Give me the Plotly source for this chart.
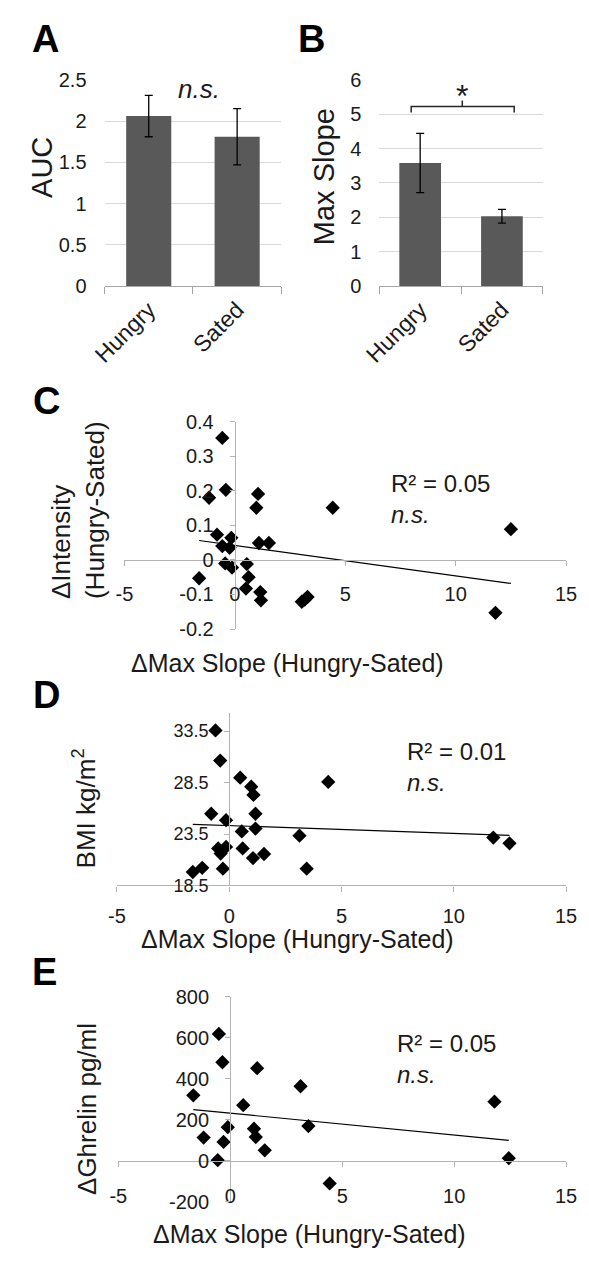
import numpy as np
import plotly.graph_objects as go

W, H = 589, 1262

# ---------------- data ----------------
categories = ["Hungry", "Sated"]
auc_mean = [2.06, 1.81]
auc_err = [0.25, 0.34]
slope_mean = [3.58, 2.03]
slope_err = [0.86, 0.20]

# Panel C: dMax slope vs dIntensity
c_x = [-0.57, -0.41, -1.17, 1.05, 0.97, 4.43, 12.5, -0.81, -0.16, -0.57, -0.24, 1.09, 1.54,
       -0.44, -0.13, 0.54, -1.62, 0.62, 0.50, 1.15, 1.18, 3.03, 3.29, 3.16, 11.8]
c_y = [0.353, 0.203, 0.180, 0.191, 0.151, 0.151, 0.089, 0.073, 0.064, 0.040, 0.035, 0.049, 0.049,
       -0.010, -0.022, -0.012, -0.053, -0.050, -0.083, -0.093, -0.117, -0.121, -0.107, -0.115, -0.153]

# Panel D: dMax slope vs BMI
d_x = [-0.61, -0.40, 0.49, 4.41, 0.98, 1.08, -0.80, 1.17, -0.14, 0.56, 1.17, 3.13, -0.49, -0.14,
       -0.38, 0.60, 1.06, 1.55, -1.62, -1.20, -0.28, 3.45, 11.76, 12.48]
d_y = [33.56, 30.63, 28.97, 28.56, 28.1, 27.3, 25.47, 25.47, 24.84, 23.75, 24.03, 23.34, 22.1, 22.25,
       21.6, 22.1, 21.16, 21.56, 19.81, 20.22, 20.13, 20.13, 23.15, 22.6]

# Panel E: dMax slope vs dGhrelin
e_x = [-0.51, -0.35, 1.2, 3.14, -1.65, 11.8, 0.58, -0.11, 3.49, 1.06, 1.14, -1.19, -0.30, 1.54,
       -0.56, 12.44, 4.44]
e_y = [618, 480, 451, 363, 319, 288, 271, 164, 169, 156, 116, 113, 92, 51, 3, 13, -110]

scatter_xticks = [-5, 0, 5, 10, 15]
scatter_xticktext = ["-5", "0", "5", "10", "15"]
c_yticks = [-0.2, -0.1, 0, 0.1, 0.2, 0.3, 0.4]
c_yticktext = ["-0.2", "-0.1", "0", "0.1", "0.2", "0.3", "0.4"]
d_yticks = [18.5, 23.5, 28.5, 33.5]
d_yticktext = ["18.5", "23.5", "28.5", "33.5"]
e_yticks = [-200, 0, 200, 400, 600, 800]
e_yticktext = ["-200", "0", "200", "400", "600", "800"]

r2_texts = ["R² = 0.05", "R² = 0.01", "R² = 0.05"]

# ---------------- helpers ----------------
FONT = "Arial, Liberation Sans, sans-serif"
TXT = "#1a1a1a"


def px(x):
    return x / W


def py(y):
    return 1 - y / H


def xdom(a, b):
    return [px(a), px(b)]


def ydom(top, bottom):
    return [py(bottom), py(top)]


fig = go.Figure()

BAR_COLOR = "#595959"
# A
fig.add_trace(go.Bar(x=categories, y=auc_mean, marker=dict(color=BAR_COLOR, line=dict(width=0)),
                     error_y=dict(type="data", array=auc_err, color="black", thickness=1.3, width=4),
                     xaxis="x", yaxis="y", showlegend=False))
# B
fig.add_trace(go.Bar(x=categories, y=slope_mean, marker=dict(color=BAR_COLOR, line=dict(width=0)),
                     error_y=dict(type="data", array=slope_err, color="black", thickness=1.3, width=4),
                     xaxis="x2", yaxis="y2", showlegend=False))


def add_scatter(xs, ys, xa, ya):
    fig.add_trace(go.Scatter(x=xs, y=ys, mode="markers",
                             marker=dict(symbol="diamond", size=11, color="black"),
                             xaxis=xa, yaxis=ya, showlegend=False))
    m, b = np.polyfit(xs, ys, 1)
    lx = np.array([min(xs), max(xs)])
    fig.add_trace(go.Scatter(x=lx, y=m * lx + b, mode="lines",
                             line=dict(color="black", width=1.2),
                             xaxis=xa, yaxis=ya, showlegend=False, hoverinfo="skip"))


add_scatter(c_x, c_y, "x3", "y3")
add_scatter(d_x, d_y, "x4", "y4")
add_scatter(e_x, e_y, "x5", "y5")

AX_GREY = "#b3b3b3"

bar_x_common = dict(type="category", showline=True, linecolor="#a6a6a6", linewidth=1.3,
                    ticks="outside", tickson="boundaries", ticklen=7, tickcolor="#a6a6a6",
                    tickangle=-45, tickfont=dict(size=23, color=TXT, family=FONT),
                    showgrid=False, zeroline=False)
bar_y_common = dict(showline=False, ticks="", showgrid=True, gridcolor="#d9d9d9", gridwidth=1.2,
                    zeroline=False, tickfont=dict(size=20, color=TXT, family=FONT),
                    ticklabelstandoff=17)

# Scatter domains (pixels)
C_X = (112, 576.5)
C_Y = (418, 629)
C_YR = [-0.2, 0.4]
D_X = (104, 576.5)
D_Y = (714, 890)
D_YR = [18.5, 35.3]
E_X = (105.5, 576.5)
E_Y = (1003, 1212)
E_YR = [-200, 800]
XR = [-5, 15]


def zero_px_x(dom):
    return dom[0] + (0 - XR[0]) / (XR[1] - XR[0]) * (dom[1] - dom[0])


def zero_px_y(dom, rng):
    return dom[1] - (0 - rng[0]) / (rng[1] - rng[0]) * (dom[1] - dom[0])


sc_x_common = dict(range=XR, tickvals=scatter_xticks, ticktext=scatter_xticktext,
                   showline=True, linecolor=AX_GREY, linewidth=1.3, ticks="outside",
                   ticklen=5, tickcolor=AX_GREY, showgrid=False, zeroline=False,
                   tickfont=dict(size=20, color=TXT, family=FONT))
sc_y_common = dict(showline=True, linecolor=AX_GREY, linewidth=1.3, ticks="outside",
                   ticklen=5, tickcolor=AX_GREY, showgrid=False, zeroline=False,
                   tickfont=dict(size=20, color=TXT, family=FONT), ticklabelstandoff=12)

fig.update_layout(
    width=W, height=H, margin=dict(l=0, r=0, t=0, b=0),
    paper_bgcolor="white", plot_bgcolor="white", bargap=0.49,
    font=dict(family=FONT, color=TXT),
    xaxis=dict(domain=xdom(91, 277), anchor="y", **bar_x_common),
    yaxis=dict(domain=ydom(70, 280), anchor="x", range=[0, 2.5], dtick=0.5, **bar_y_common),
    xaxis2=dict(domain=xdom(380, 552), anchor="y2", **bar_x_common),
    yaxis2=dict(domain=ydom(70, 280), anchor="x2", range=[0, 6], dtick=1, **bar_y_common),
    xaxis3=dict(domain=xdom(*C_X), anchor="free", position=py(zero_px_y(C_Y, C_YR)),
                ticklabelstandoff=11, **sc_x_common),
    yaxis3=dict(domain=ydom(*C_Y), anchor="free", position=px(zero_px_x(C_X)), range=C_YR,
                tickvals=c_yticks, ticktext=c_yticktext, **sc_y_common),
    xaxis4=dict(domain=xdom(*D_X), anchor="y4", ticklabelstandoff=7, **sc_x_common),
    yaxis4=dict(domain=ydom(*D_Y), anchor="free", position=px(zero_px_x(D_X)), range=D_YR,
                tickvals=d_yticks, ticktext=d_yticktext,
                **{**sc_y_common, "tickfont": dict(size=18, color=TXT, family=FONT)}),
    xaxis5=dict(domain=xdom(*E_X), anchor="free", position=py(zero_px_y(E_Y, E_YR)),
                ticklabelstandoff=12, **sc_x_common),
    yaxis5=dict(domain=ydom(*E_Y), anchor="free", position=px(zero_px_x(E_X)), range=E_YR,
                tickvals=e_yticks, ticktext=e_yticktext, **sc_y_common),
)

ann = []


def label(text, x, y, size, xanchor="center", angle=0, bold=False, italic=False, yanchor="middle"):
    t = text
    if bold:
        t = f"<b>{t}</b>"
    if italic:
        t = f"<i>{t}</i>"
    ann.append(dict(text=t, x=px(x), y=py(y), xref="paper", yref="paper", showarrow=False,
                    xanchor=xanchor, yanchor=yanchor, textangle=angle, align="left",
                    font=dict(size=size, color="black" if bold else TXT, family=FONT)))


# panel letters
for letter, lx, ly in [("A", 29, 28), ("B", 309, 28), ("C", 30, 397), ("D", 30, 696), ("E", 28, 978)]:
    label(letter, lx, ly, 38, bold=True)

# axis titles
label("AUC", 26, 159, 29, angle=-90)
label("Max Slope", 322, 169, 29, angle=-90)
label("ΔIntensity<br>(Hungry-Sated)", 63, 508, 26, angle=-90)
label("ΔMax Slope (Hungry-Sated)", 283, 664, 25)
label("BMI kg/m<sup>2</sup>", 70, 812, 26, angle=-90)
label("ΔMax Slope (Hungry-Sated)", 294, 944, 25)
label("ΔGhrelin pg/ml", 72, 1117, 26, angle=-90)
label("ΔMax Slope (Hungry-Sated)", 307, 1245, 25)

# significance
label("n.s.", 190, 79, 26, italic=True)
label("*", 467, 86, 32)

# R² and n.s. in scatters (one wrapped text each)
for txt, lx, top in [(r2_texts[0], 390, 465), (r2_texts[1], 407, 738), (r2_texts[2], 396, 1035)]:
    label(f"{txt}<br><i>n.s.</i>", lx, top, 24, xanchor="left", yanchor="top")

fig.update_layout(annotations=ann)

# bracket in panel B (data coordinates of axis x2/y2)
br = dict(color="#262626", width=1.5)
fig.add_shape(type="path", xref="x2", yref="y2",
              path="M -0.11,5.05 L -0.11,5.22 L 1.15,5.22 L 1.15,5.05", line=br)
fig.add_shape(type="line", xref="x2", yref="y2", x0=0.515, x1=0.515, y0=5.22, y1=5.40, line=br)

fig.write_html("out.html", config={"displayModeBar": False},
               post_script="document.body.style.margin='0';document.body.style.overflow='hidden';")
